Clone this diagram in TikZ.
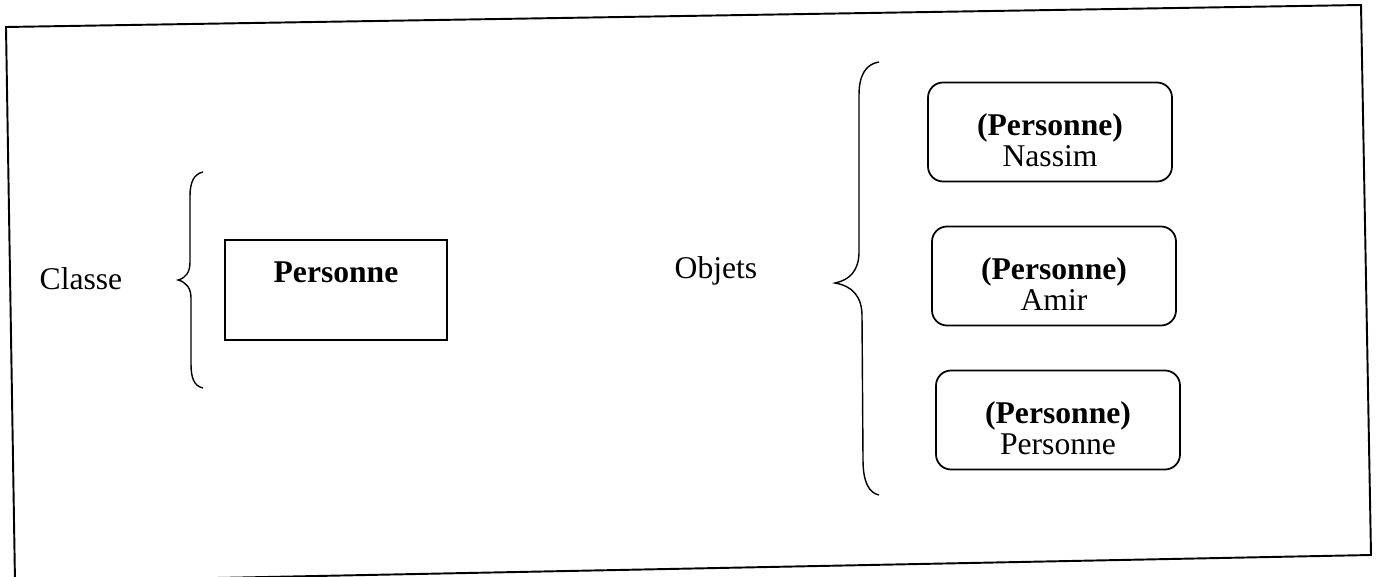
\documentclass[tikz,border=0pt]{standalone}
\usepackage{fontspec}
\setmainfont{Liberation Serif}
\usetikzlibrary{positioning}

\tikzset{
  classbox/.style={draw, line width=1pt, inner sep=0pt, minimum width=4.44cm,
    text height=0.86cm, text depth=1.14cm},
  objbox/.style={draw, line width=1pt, rounded corners=0.3cm, align=center,
    inner sep=0pt, minimum width=4.88cm, minimum height=1.98cm,
    text height=1.4cm, text depth=0cm},
  accolade/.style={line width=0.8pt}
}
\newcommand{\instance}[1]{\textbf{(Personne)}\\#1}

\begin{document}
\begin{tikzpicture}[x=0.02cm, y=-0.02cm, font=\fontsize{18}{18}\selectfont]
  \useasboundingbox (0,0) rectangle (1378,577);
  % outer frame (slightly skewed)
  \draw[line width=1.1pt] (6,27) -- (1361,5) -- (1371,555) -- (15,582) -- cycle;

  % class side
  \node[anchor=base] (classe) at (81,290) {Classe};
  \node[classbox, anchor=base] (personne) at (336,283) {\textbf{Personne}};
  \draw[accolade] (203,172) .. controls (194,174) and (190,182) .. (190,196)
    -- (190,262) .. controls (190,272) and (186,278) .. (178,280)
    .. controls (186,282) and (191,288) .. (191,298)
    -- (191,364) .. controls (191,378) and (194,386) .. (203,388);

  % object side
  \node[anchor=base] (objets) at (716,278) {Objets};
  \draw[accolade] (879,62) .. controls (866,64) and (859,75) .. (859,95)
    -- (859,252) .. controls (859,270) and (850,280) .. (835,283)
    .. controls (852,286) and (862,296) .. (862,316)
    -- (863,460) .. controls (863,482) and (869,493) .. (879,495);
  \node[objbox] (nassim) at (1050,132) {\instance{Nassim}};
  \node[objbox] (amir) at (1054,276) {\instance{Amir}};
  \node[objbox] (autre) at (1058,420) {\instance{Personne}};
\end{tikzpicture}
\end{document}
